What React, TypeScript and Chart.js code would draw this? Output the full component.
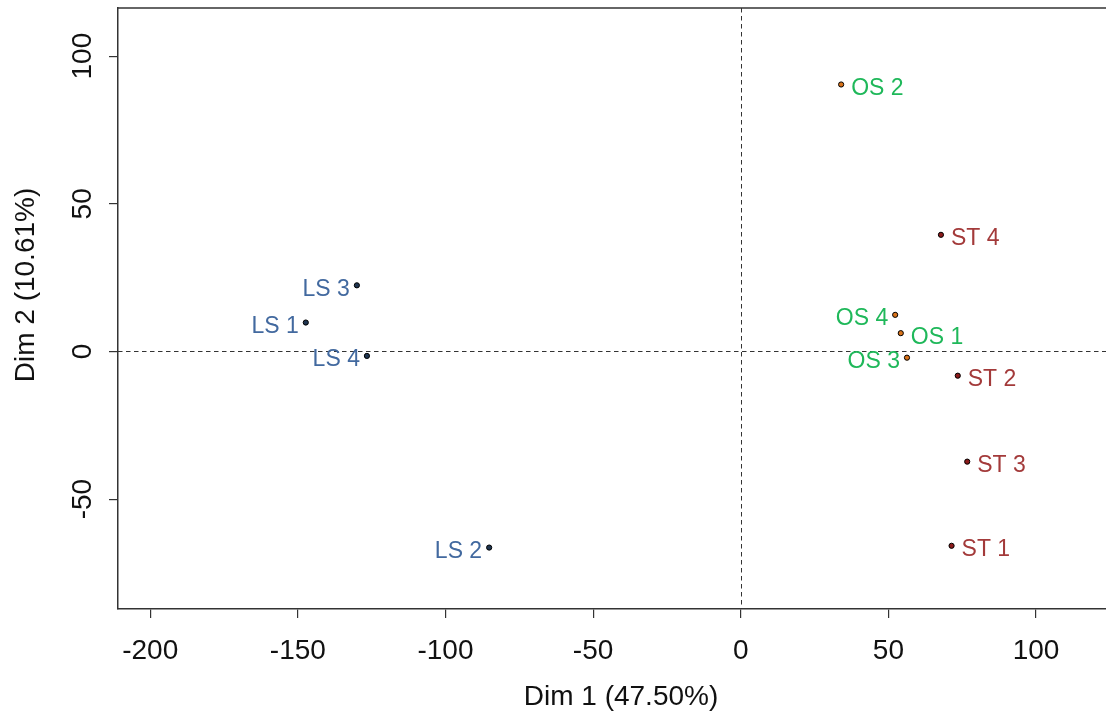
import React, { useEffect, useRef } from "react";
import { Chart, registerables } from "chart.js";

Chart.register(...registerables);

// ---- data ----
const lsLabels = ["LS 1", "LS 2", "LS 3", "LS 4"];
const lsX = [-147.3, -85.2, -130.0, -126.6];
const lsY = [9.8, -66.4, 22.4, -1.5];
const lsSide = ["left", "left", "left", "left"];

const osLabels = ["OS 1", "OS 2", "OS 3", "OS 4"];
const osX = [54.2, 34.0, 56.3, 52.3];
const osY = [6.2, 90.4, -2.1, 12.4];
const osSide = ["right", "right", "left", "left"];

const stLabels = ["ST 1", "ST 2", "ST 3", "ST 4"];
const stX = [71.4, 73.5, 76.7, 67.8];
const stY = [-65.8, -8.2, -37.3, 39.5];
const stSide = ["right", "right", "right", "right"];

const xTitle = "Dim 1 (47.50%)";
const yTitle = "Dim 2 (10.61%)";
const xRange = [-210.9, 123.7];
const yRange = [-87.2, 116.3];
const tickStep = 50;

const FONT = "'Liberation Sans', Arial, sans-serif";
const LS_TEXT = "#42699f";
const OS_TEXT = "#1fb85a";
const ST_TEXT = "#a33a3a";
const AXIS = "#333333";

function mk(xs: number[], ys: number[], labels: string[], sides: string[]) {
  return xs.map((x, i) => ({ x, y: ys[i], label: labels[i], side: sides[i] }));
}

const overlay = {
  id: "overlay",
  beforeDatasetsDraw(chart: any) {
    const { ctx, chartArea: ca, scales } = chart;
    const xs = scales.x, ys = scales.y;
    ctx.save();
    ctx.strokeStyle = AXIS;
    ctx.lineWidth = 1;
    ctx.setLineDash([4.5, 3.5]);
    const x0 = Math.round(xs.getPixelForValue(0)) + 0.5;
    const y0 = Math.round(ys.getPixelForValue(0)) + 0.5;
    ctx.beginPath();
    ctx.moveTo(x0, ca.top);
    ctx.lineTo(x0, ca.bottom);
    ctx.moveTo(ca.left, y0);
    ctx.lineTo(ca.right, y0);
    ctx.stroke();
    ctx.setLineDash([]);
    ctx.lineWidth = 1.5;
    ctx.beginPath();
    ctx.moveTo(ca.left, ca.top);
    ctx.lineTo(ca.right, ca.top);
    ctx.stroke();
    ctx.restore();
  },
  afterDraw(chart: any) {
    const { ctx, scales } = chart;
    const xs = scales.x, ys = scales.y;
    ctx.save();
    ctx.fillStyle = "#111111";
    ctx.font = `28px ${FONT}`;
    ctx.textBaseline = "alphabetic";
    ctx.textAlign = "center";
    xs.ticks.forEach((t: any) => {
      ctx.fillText(String(t.value), xs.getPixelForValue(t.value), 659);
    });
    ys.ticks.forEach((t: any) => {
      ctx.save();
      ctx.translate(90.5, ys.getPixelForValue(t.value));
      ctx.rotate(-Math.PI / 2);
      ctx.textAlign = "center";
      ctx.fillText(String(t.value), 0, 0);
      ctx.restore();
    });
    ctx.textAlign = "center";
    ctx.fillText(xTitle, 621, 705);
    ctx.save();
    ctx.translate(33.5, 285);
    ctx.rotate(-Math.PI / 2);
    ctx.fillText(yTitle, 0, 0);
    ctx.restore();

    ctx.font = `23px ${FONT}`;
    chart.data.datasets.forEach((ds: any, di: number) => {
      const meta = chart.getDatasetMeta(di);
      ctx.fillStyle = ds.textColor;
      ds.data.forEach((p: any, i: number) => {
        const el = meta.data[i];
        if (p.side === "left") {
          ctx.textAlign = "right";
          ctx.fillText(p.label, el.x - 7, el.y + 10.5);
        } else {
          ctx.textAlign = "left";
          ctx.fillText(p.label, el.x + 10, el.y + 10.5);
        }
      });
    });
    ctx.restore();
  },
};

export default function App() {
  const ref = useRef<HTMLCanvasElement | null>(null);
  useEffect(() => {
    if (!ref.current) return;
    const tickOpts = (size: number, axis: "x" | "y") => ({
      type: "linear" as const,
      min: axis === "x" ? xRange[0] : yRange[0],
      max: axis === "x" ? xRange[1] : yRange[1],
      ticks: { display: false, stepSize: tickStep, includeBounds: false },
      grid: {
        drawOnChartArea: false,
        drawTicks: true,
        tickLength: 9,
        color: AXIS,
        lineWidth: 1.2,
      },
      border: { display: true, color: AXIS, width: 1.5 },
      afterFit(scale: any) {
        if (axis === "x") scale.height = size;
        else scale.width = size;
      },
    });
    const chart = new Chart(ref.current, {
      type: "scatter",
      data: {
        datasets: [
          {
            label: "LS",
            data: mk(lsX, lsY, lsLabels, lsSide),
            backgroundColor: "#1f3550",
            borderColor: "#000000",
            borderWidth: 1,
            pointRadius: 2.6,
            textColor: LS_TEXT,
          } as any,
          {
            label: "OS",
            data: mk(osX, osY, osLabels, osSide),
            backgroundColor: "#d9731a",
            borderColor: "#000000",
            borderWidth: 1,
            pointRadius: 2.6,
            textColor: OS_TEXT,
          } as any,
          {
            label: "ST",
            data: mk(stX, stY, stLabels, stSide),
            backgroundColor: "#8b1a1a",
            borderColor: "#000000",
            borderWidth: 1,
            pointRadius: 2.6,
            textColor: ST_TEXT,
          } as any,
        ],
      },
      options: {
        animation: false,
        responsive: false,
        maintainAspectRatio: false,
        layout: { autoPadding: false, padding: { top: 8, left: 0, right: 0, bottom: 0 } },
        plugins: { legend: { display: false }, tooltip: { enabled: false } },
        scales: {
          x: tickOpts(106, "x") as any,
          y: tickOpts(118, "y") as any,
        },
      },
      plugins: [overlay],
    });
    return () => chart.destroy();
  }, []);
  return (
    <div style={{ position: "fixed", left: 0, top: 0, width: 1106, height: 715, background: "#fff" }}>
      <canvas ref={ref} width={1106} height={715} style={{ width: 1106, height: 715 }} />
    </div>
  );
}
